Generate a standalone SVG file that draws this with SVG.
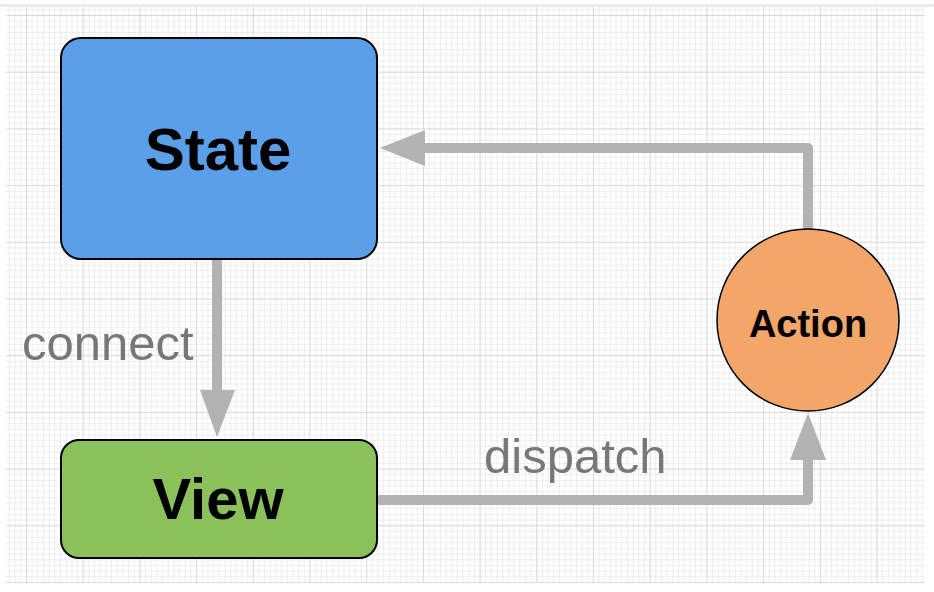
<svg xmlns="http://www.w3.org/2000/svg" width="934" height="592" viewBox="0 0 934 592">
<defs>
<pattern id="minor" x="26" y="15" width="5.67" height="5.67" patternUnits="userSpaceOnUse">
<path d="M0 0H5.67M0 0V5.67" fill="none" stroke="#dedede" stroke-width="1"/>
</pattern>
<pattern id="major" x="26" y="15" width="56.7" height="56.7" patternUnits="userSpaceOnUse">
<path d="M0 0H56.7M0 0V56.7" fill="none" stroke="#c8c8c8" stroke-width="1"/>
</pattern>
<style>
.conn{fill:none;stroke:#b3b3b3;stroke-width:10;stroke-linejoin:round}
.head{fill:#b3b3b3}
.lbl{font-family:"Liberation Sans",Arial,sans-serif;font-size:49px;fill:#777777}
.nt{font-family:"Liberation Sans",Arial,sans-serif;font-weight:bold;text-anchor:middle;fill:#000}
</style>
</defs>
<rect width="934" height="592" fill="#ffffff"/>
<rect x="0" y="4" width="934" height="3" fill="#ececf0"/>
<rect x="6" y="7" width="919" height="576" fill="url(#minor)"/>
<rect x="6" y="7" width="919" height="576" fill="url(#major)"/>
<g id="connectors">
<path class="conn" d="M217 259V395"/>
<polygon class="head" points="200,390 235,390 217,437"/>
<path class="conn" d="M377 500H808V458"/>
<polygon class="head" points="790,460 826,460 808,413"/>
<path class="conn" d="M808 230V148H422"/>
<polygon class="head" points="425,130 425,166 380,148"/>
<text class="lbl" x="22" y="360">connect</text>
<text class="lbl" x="484" y="473">dispatch</text>
</g>
<g id="state">
<rect x="61" y="38" width="316" height="221" rx="20" fill="#5b9fe8" stroke="#000" stroke-width="2"/>
<text class="nt" x="218" y="170" font-size="60">State</text>
</g>
<g id="view">
<rect x="61" y="440" width="316" height="118" rx="18" fill="#8bc15a" stroke="#000" stroke-width="2"/>
<text class="nt" x="218" y="519" font-size="58">View</text>
</g>
<g id="action">
<circle cx="808" cy="320" r="91" fill="#f2a66a" stroke="#000" stroke-width="1.5"/>
<text class="nt" x="808" y="337" font-size="38">Action</text>
</g>
</svg>
